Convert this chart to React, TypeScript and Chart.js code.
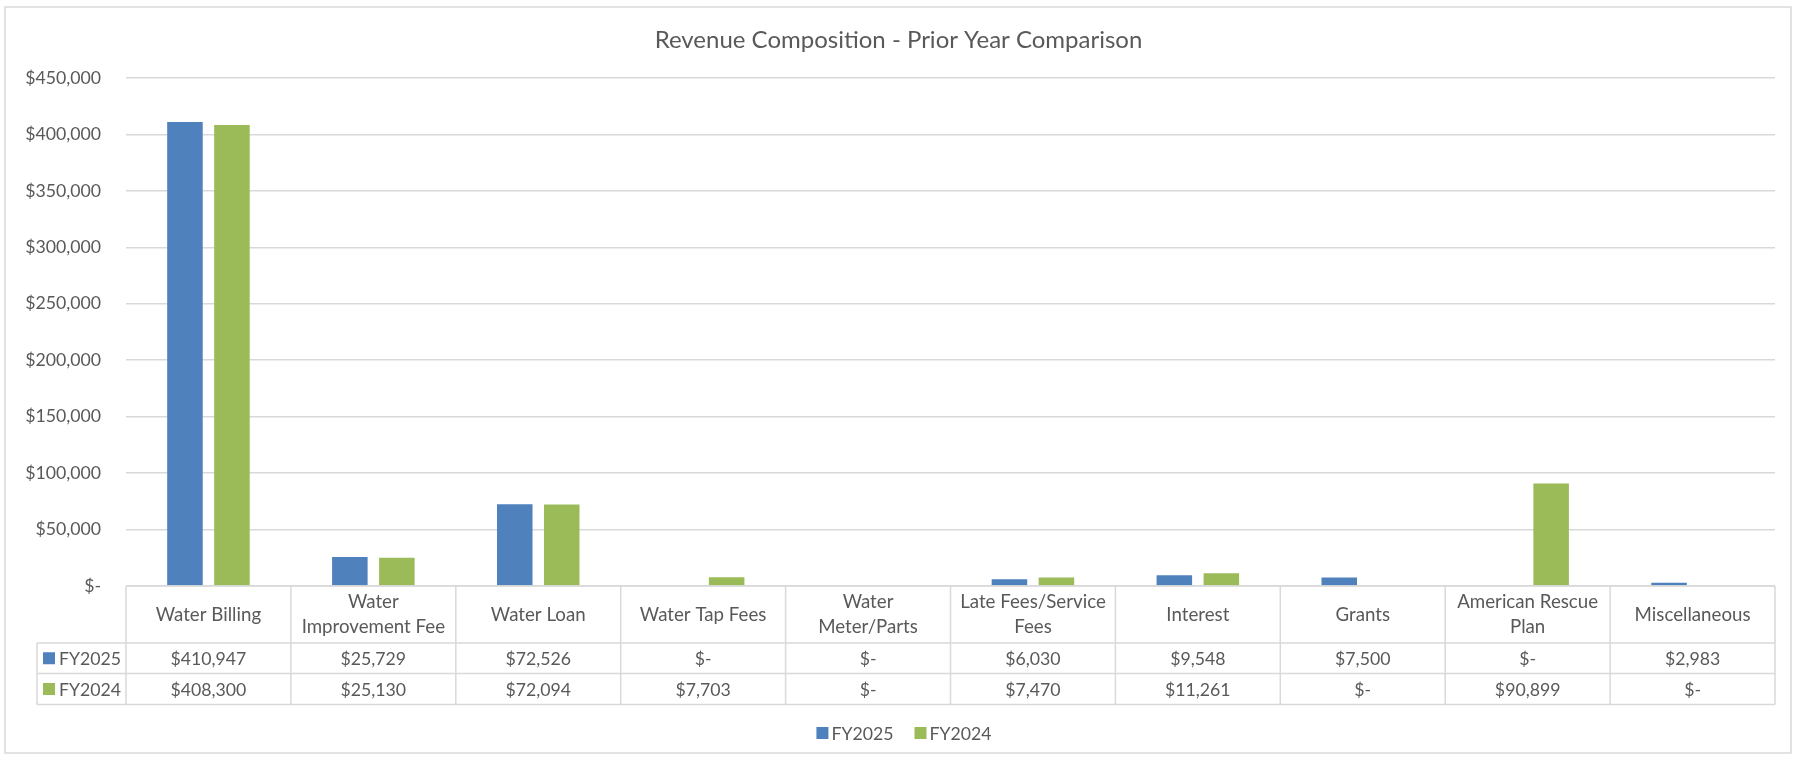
import React, { useEffect, useRef } from "react";
import { Chart, registerables } from "chart.js";

Chart.register(...registerables);

const categories: string[][] = [
  ["Water Billing"],
  ["Water", "Improvement Fee"],
  ["Water Loan"],
  ["Water Tap Fees"],
  ["Water", "Meter/Parts"],
  ["Late Fees/Service", "Fees"],
  ["Interest"],
  ["Grants"],
  ["American Rescue", "Plan"],
  ["Miscellaneous"],
];
const seriesNames = ["FY2025", "FY2024"];
const fy2025 = [410947, 25729, 72526, 0, 0, 6030, 9548, 7500, 0, 2983];
const fy2024 = [408300, 25130, 72094, 7703, 0, 7470, 11261, 0, 90899, 0];
const yMax = 450000;
const yStep = 50000;
const titleText = "Revenue Composition - Prior Year Comparison";

const BLUE = "#4F81BD";
const GREEN = "#9BBB59";
const TEXT = "#595959";
const LINE = "#D9D9D9";
const FONT = "Lato, 'Liberation Sans', sans-serif";

const W = 1797;
const H = 757;

const fmt = (v: number) => (v === 0 ? "$-" : "$" + v.toLocaleString("en-US"));

const tablePlugin = {
  id: "dataTable",
  beforeDraw(chart: any) {
    const ctx = chart.ctx;
    ctx.save();
    ctx.fillStyle = "#ffffff";
    ctx.fillRect(0, 0, chart.width, chart.height);
    ctx.strokeStyle = LINE;
    ctx.lineWidth = 1.5;
    ctx.strokeRect(5, 7, 1786, 746);
    ctx.restore();
  },
  afterDraw(chart: any) {
    const ctx = chart.ctx;
    const x = chart.scales.x;
    const area = chart.chartArea;
    const n = categories.length;
    const cw = (area.right - area.left) / n;
    const top = area.bottom;
    const hdrB = top + 57;
    const r1B = hdrB + 30.5;
    const r2B = r1B + 31;
    const legL = 37;
    ctx.save();
    ctx.strokeStyle = LINE;
    ctx.lineWidth = 1.5;
    ctx.beginPath();
    ctx.moveTo(area.left, top);
    ctx.lineTo(area.right, top);
    for (const yy of [hdrB, r1B, r2B]) {
      ctx.moveTo(legL, yy);
      ctx.lineTo(area.right, yy);
    }
    for (let i = 0; i <= n; i++) {
      const xx = area.left + i * cw;
      ctx.moveTo(xx, top);
      ctx.lineTo(xx, r2B);
    }
    ctx.moveTo(legL, hdrB);
    ctx.lineTo(legL, r2B);
    ctx.stroke();

    ctx.fillStyle = TEXT;
    ctx.font = `18.7px ${FONT}`;
    ctx.textAlign = "center";
    ctx.textBaseline = "middle";
    const hdrMid = (top + hdrB) / 2;
    categories.forEach((lines, i) => {
      const cx = x.getPixelForValue(i);
      const lh = 25;
      const startY = hdrMid - ((lines.length - 1) * lh) / 2;
      lines.forEach((ln, j) => ctx.fillText(ln, cx, startY + j * lh));
    });
    ctx.font = `17.7px ${FONT}`;
    const rows = [
      { name: seriesNames[0], color: BLUE, data: fy2025, mid: (hdrB + r1B) / 2 },
      { name: seriesNames[1], color: GREEN, data: fy2024, mid: (r1B + r2B) / 2 },
    ];
    rows.forEach((r) => {
      r.data.forEach((v, i) => {
        ctx.fillStyle = TEXT;
        ctx.textAlign = "center";
        ctx.fillText(fmt(v), x.getPixelForValue(i), r.mid + 1);
      });
      ctx.fillStyle = r.color;
      ctx.fillRect(43, r.mid - 6, 12, 12);
      ctx.fillStyle = TEXT;
      ctx.textAlign = "left";
      ctx.fillText(r.name, 59, r.mid + 1);
    });

    // legend
    ctx.font = `17.7px ${FONT}`;
    const box = 12;
    const gapBT = 3;
    const gapItems = 21;
    const widths = seriesNames.map((s) => ctx.measureText(s).width);
    const total = widths.reduce((a, w) => a + box + gapBT + w, 0) + gapItems * (seriesNames.length - 1);
    let lx = 904 - total / 2;
    const ly = 733;
    const colors = [BLUE, GREEN];
    seriesNames.forEach((s, i) => {
      ctx.fillStyle = colors[i];
      ctx.fillRect(lx, ly - 6, box, box);
      lx += box + gapBT;
      ctx.fillStyle = TEXT;
      ctx.textAlign = "left";
      ctx.fillText(s, lx, ly + 1);
      lx += widths[i] + gapItems;
    });
    ctx.restore();
  },
};

export default function App() {
  const ref = useRef<HTMLCanvasElement | null>(null);
  useEffect(() => {
    if (!ref.current) return;
    const chart = new Chart(ref.current, {
      type: "bar",
      data: {
        labels: categories,
        datasets: [
          { label: seriesNames[0], data: fy2025, backgroundColor: BLUE },
          { label: seriesNames[1], data: fy2024, backgroundColor: GREEN },
        ],
      },
      options: {
        responsive: false,
        animation: false,
        devicePixelRatio: 1,
        layout: { padding: { left: 22, right: 22, top: 0, bottom: 53 } },
        datasets: { bar: { categoryPercentage: 0.57, barPercentage: 0.756 } },
        scales: {
          x: {
            display: true,
            grid: { display: false },
            border: { display: false },
            ticks: { display: false },
            afterFit: (s: any) => {
              s.height = 118;
            },
          },
          y: {
            min: 0,
            max: yMax,
            grid: { color: LINE, lineWidth: 1.5, drawTicks: false },
            border: { display: false },
            ticks: {
              stepSize: yStep,
              padding: 25,
              color: TEXT,
              font: { family: FONT, size: 17.7 },
              callback: (v: any) => fmt(Number(v)),
            },
            afterFit: (s: any) => {
              s.width = 104;
            },
          },
        },
        plugins: {
          title: {
            display: true,
            text: titleText,
            color: TEXT,
            font: { family: FONT, size: 24, weight: "normal", lineHeight: 1.2 },
            padding: { top: 25.6, bottom: 23.6 },
          },
          legend: { display: false },
          tooltip: { enabled: false },
        },
      },
      plugins: [tablePlugin],
    });
    return () => chart.destroy();
  }, []);
  return (
    <div style={{ position: "fixed", left: 0, top: 0, width: W, height: H, background: "#fff" }}>
      <canvas ref={ref} width={W} height={H} style={{ display: "block", width: W, height: H }} />
    </div>
  );
}
